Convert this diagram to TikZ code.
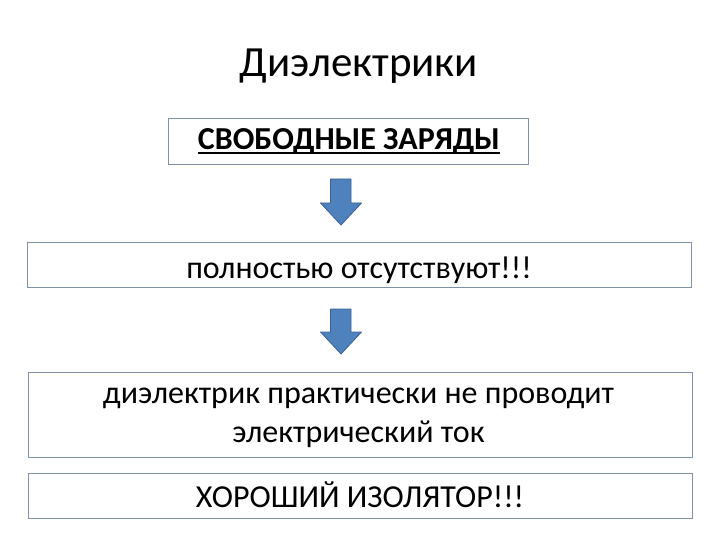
\documentclass[tikz,border=0pt]{standalone}
\usepackage{fontspec}
\setmainfont{Carlito}
\definecolor{boxline}{HTML}{7F93A8}
\definecolor{arrfill}{HTML}{4F81BD}
\definecolor{arrline}{HTML}{3A6297}
\begin{document}
\begin{tikzpicture}[x=1pt,y=-1pt,
  textbox/.style={draw=boxline, line width=0.8pt, fill=white, inner sep=0pt, anchor=base},
  plainbox/.style={draw=boxline, line width=0.8pt, fill=white, inner sep=0pt},
  bodytext/.style={font=\fontsize{32}{38}\selectfont, inner sep=0pt, anchor=base},
  blockarrow/.style={fill=arrfill, draw=arrline, line width=0.8pt, line join=round}]
\useasboundingbox (0,0) rectangle (720,540);
\fill[white] (0,0) rectangle (720,540);
\node[font=\fontsize{43}{50}\selectfont, inner sep=0pt, anchor=base] (title) at (359,77) {Диэлектрики};
\node[plainbox, minimum width=360, minimum height=46] (b1) at (348,141) {};
\node[bodytext] (t1) at (349,150) {\bfseries СВОБОДНЫЕ ЗАРЯДЫ};
\draw[line width=1.8pt] ([yshift=-3.2pt]t1.base west) -- ([yshift=-3.2pt]t1.base east);
\node[textbox, bodytext, minimum width=664, text height=36, text depth=9] (b2) at (359,278)
  {полностью отсутствуют!!!};
\node[plainbox, minimum width=664, minimum height=85] (b3) at (360,414.5) {};
\node[bodytext] (t3a) at (358.5,403) {диэлектрик практически не проводит};
\node[bodytext] (t3b) at (358.5,442) {электрический ток};
\node[textbox, bodytext, minimum width=664, text height=34, text depth=11] (b4) at (360,507)
  {ХОРОШИЙ ИЗОЛЯТОР!!!};
\draw[blockarrow] (330.5,179) -- (351,179) -- (351,203) -- (361.5,203) -- (341,225)
  -- (320.5,203) -- (330.5,203) -- cycle;
\draw[blockarrow] (330.5,309) -- (351,309) -- (351,332) -- (361.5,332) -- (341,354)
  -- (320.5,332) -- (330.5,332) -- cycle;
\end{tikzpicture}
\end{document}
